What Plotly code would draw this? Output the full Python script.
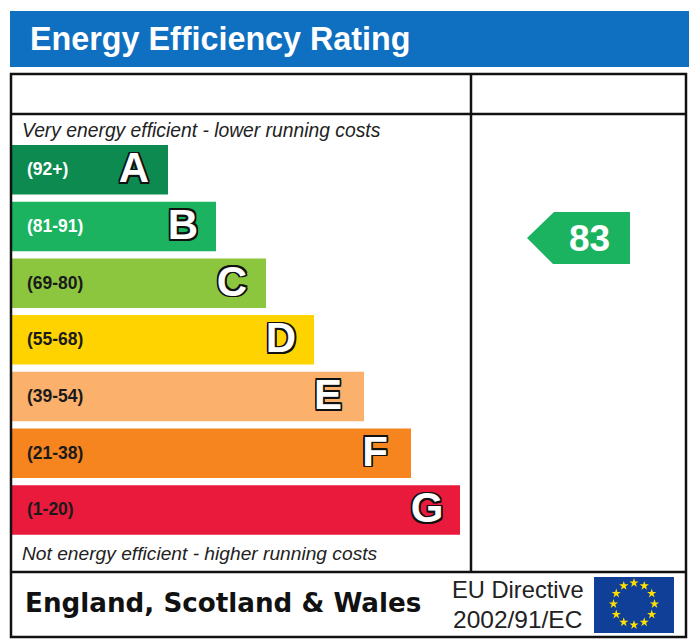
import numpy as np
import plotly.graph_objects as go

# Rating bands, top to bottom
bands = ['A', 'B', 'C', 'D', 'E', 'F', 'G']
ranges = ['(92+)', '(81-91)', '(69-80)', '(55-68)', '(39-54)', '(21-38)', '(1-20)']
bar_lengths = [156, 204, 254, 302, 352, 399, 448]
current_rating = 83

band_colors = ['#0c8a50', '#1bb35f', '#8cc63f', '#ffd300', '#fbb06c', '#f6851f', '#ea1a3d']
range_colors = ['white', 'white', '#1a1a1a', '#1a1a1a', '#1a1a1a', '#1a1a1a', '#1a1a1a']

# Layout in page pixels (the page body adds an 8px margin, so the axes start at 8)
page_margin = 8
bar_left = 12
row_top = 145
row_step = 56.7
bar_height = 49.5
row_centers = [row_top + bar_height / 2 + i * row_step for i in range(len(bands))]
letter_insets = [34, 33, 34, 33, 36, 36, 33]
outline = ','.join(f'{dx}px {dy}px 0 #111' for dx in (-1.6, 0, 1.6) for dy in (-1.6, 0, 1.6))

fig = go.Figure()

fig.add_trace(go.Bar(
    y=row_centers,
    x=bar_lengths,
    base=bar_left,
    width=bar_height,
    orientation='h',
    marker=dict(color=band_colors, line=dict(width=0)),
    hoverinfo='skip',
    showlegend=False
))

# Score ranges inside the bars
fig.add_trace(go.Scatter(
    x=[27] * len(ranges),
    y=[c + 1 for c in row_centers],
    text=ranges,
    mode='text',
    textposition='middle right',
    textfont=dict(family='Liberation Sans', size=17.5, color=range_colors, weight='bold'),
    hoverinfo='skip',
    showlegend=False
))

# Big outlined letters at the end of each bar
fig.add_trace(go.Scatter(
    x=[bar_left + length - inset for length, inset in zip(bar_lengths, letter_insets)],
    y=[c + 2 for c in row_centers],
    text=bands,
    mode='text',
    textposition='middle center',
    textfont=dict(family='Liberation Sans', size=42, color='white', weight='bold', shadow=outline),
    hoverinfo='skip',
    showlegend=False
))

# EU flag stars
angles = np.linspace(0, 2 * np.pi, 12, endpoint=False)
fig.add_trace(go.Scatter(
    x=634 + 20.5 * np.sin(angles),
    y=604 - 21 * np.cos(angles),
    mode='markers',
    marker=dict(symbol='star', size=7, color='#ffe000', line=dict(width=0)),
    hoverinfo='skip',
    showlegend=False
))

line = dict(color='#111111', width=2.5)
shapes = [
    dict(type='rect', x0=10, x1=689, y0=11, y1=67, fillcolor='#0f6fc0', line=dict(width=0), layer='below'),
    dict(type='rect', x0=11, x1=686, y0=74, y1=637, line=line),
    dict(type='line', x0=11, x1=686, y0=114, y1=114, line=line),
    dict(type='line', x0=11, x1=686, y0=572, y1=572, line=line),
    dict(type='line', x0=471, x1=471, y0=74, y1=572, line=line),
    # current rating pointer
    dict(type='path', path='M 527 238 L 554 212 L 630 212 L 630 264 L 553 264 Z',
         fillcolor=band_colors[1], line=dict(width=0)),
    dict(type='rect', x0=594, x1=674, y0=577, y1=633, fillcolor='#0f3f96', line=dict(width=0), layer='below'),
]

sans = 'Liberation Sans'
annotations = [
    dict(x=28, y=39, text='<b>Energy Efficiency Rating</b>', xanchor='left',
         font=dict(family=sans, size=32.3, color='white')),
    dict(x=20, y=130, text='<i>Very energy efficient - lower running costs</i>', xanchor='left',
         font=dict(family=sans, size=19.3, color='#222222')),
    dict(x=20, y=553, text='<i>Not energy efficient - higher running costs</i>', xanchor='left',
         font=dict(family=sans, size=19.2, color='#222222')),
    dict(x=23, y=603, text='<b>England, Scotland &amp; Wales</b>', xanchor='left',
         font=dict(family='DejaVu Sans', size=26.2, color='#111111')),
    dict(x=586, y=590, text='EU Directive', xanchor='right',
         font=dict(family=sans, size=23.7, color='#222222')),
    dict(x=584, y=619, text='2002/91/EC', xanchor='right',
         font=dict(family=sans, size=24.5, color='#222222')),
    dict(x=589, y=238, text=f'<b>{current_rating}</b>', xanchor='center',
         font=dict(family=sans, size=37, color='white')),
]
for a in annotations:
    a.update(xref='x', yref='y', yanchor='middle', showarrow=False)

fig.update_layout(
    width=700 - page_margin,
    height=642 - page_margin,
    margin=dict(l=0, r=0, t=0, b=0),
    paper_bgcolor='white',
    plot_bgcolor='white',
    showlegend=False,
    shapes=shapes,
    annotations=annotations,
    xaxis=dict(range=[page_margin, 700], visible=False, fixedrange=True),
    yaxis=dict(range=[642, page_margin], visible=False, fixedrange=True)
)

fig.write_html('out.html', config=dict(displayModeBar=False))
